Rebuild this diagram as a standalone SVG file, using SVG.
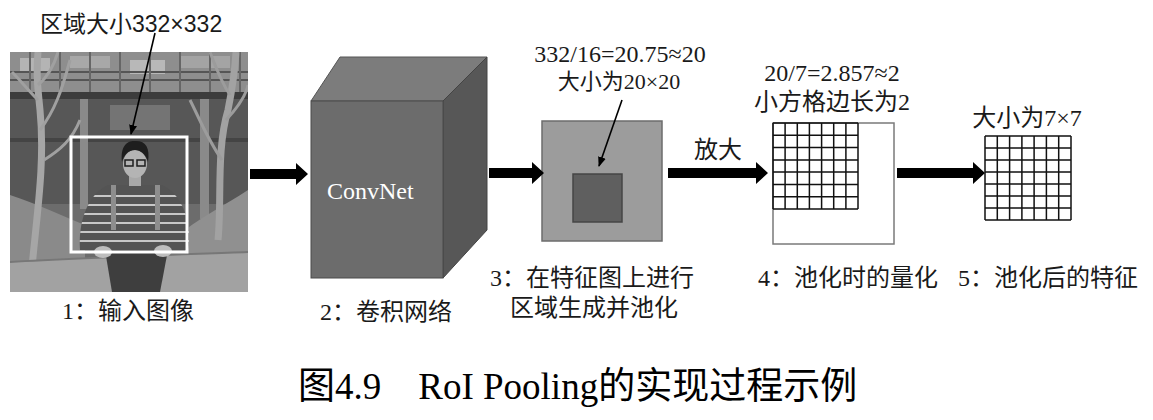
<svg xmlns="http://www.w3.org/2000/svg" width="1153" height="420" viewBox="0 0 1153 420">
<style>
.lbl{font-family:"Liberation Serif","Noto Sans CJK SC",serif;font-size:24px;fill:#1a1a1a}
.sans{font-family:"Liberation Sans","Noto Sans CJK SC",sans-serif;font-size:23px;fill:#1a1a1a}
.cap{font-family:"Liberation Serif","Noto Sans CJK SC",serif;font-size:37px;fill:#000}
.bigarrow{fill:#000}
.thin{stroke:#000;stroke-width:1.6;fill:none}
.grid{stroke:#111;stroke-width:1.5;fill:none}
</style>
<defs>
<marker id="ah" markerUnits="userSpaceOnUse" markerWidth="10" markerHeight="10" refX="9" refY="5" orient="auto">
<path d="M0,1 L10,5 L0,9 Z" fill="#000"/>
</marker>
<clipPath id="photoClip"><rect x="10" y="52" width="238" height="240"/></clipPath>
<clipPath id="bodyClip"><path d="M80,250 C78,225 86,195 108,185 L162,185 C184,195 192,225 188,250 Z"/></clipPath>
</defs>
<rect width="1153" height="420" fill="#fff"/>

<g id="photo" clip-path="url(#photoClip)">
<rect x="10" y="52" width="238" height="240" fill="#6c6c6c"/>
<rect x="10" y="52" width="238" height="42" fill="#8e8e8e"/>
<rect x="20" y="58" width="30" height="14" fill="#b4b4b4"/>
<rect x="70" y="56" width="40" height="12" fill="#a8a8a8"/>
<rect x="130" y="60" width="35" height="14" fill="#b8b8b8"/>
<rect x="180" y="56" width="50" height="12" fill="#a4a4a4"/>
<path d="M10,72 H248 M10,80 H248" stroke="#555" stroke-width="2"/>
<path d="M30,52 V92 M60,52 V92 M90,52 V92 M120,52 V92 M150,52 V92 M180,52 V92 M210,52 V92 M240,52 V92" stroke="#666" stroke-width="2"/>
<rect x="10" y="92" width="238" height="7" fill="#3c3c3c"/>
<rect x="10" y="99" width="238" height="105" fill="#575757"/>
<rect x="110" y="105" width="60" height="25" fill="#747474"/>
<rect x="10" y="138" width="238" height="4" fill="#444"/>
<rect x="80" y="99" width="8" height="110" fill="#8a8a8a"/>
<rect x="200" y="99" width="9" height="120" fill="#8a8a8a"/>
<path d="M10,195 C40,205 60,215 85,225 L85,292 L10,292 Z" fill="#8a8a8a"/>
<path d="M185,230 C205,215 225,205 248,190 L248,292 L185,292 Z" fill="#909090"/>
<path d="M30,292 C34,230 46,170 40,110 C38,90 36,75 38,52" stroke="#a6a6a6" stroke-width="7" fill="none"/>
<path d="M40,130 C55,110 62,90 70,60 M38,100 C28,90 20,80 12,72 M44,160 C60,150 72,140 80,120 M38,85 C50,75 55,62 58,52" stroke="#a0a0a0" stroke-width="3" fill="none"/>
<path d="M218,240 C222,200 216,150 228,110 C232,90 235,70 236,52" stroke="#a2a2a2" stroke-width="7" fill="none"/>
<path d="M226,120 C240,105 246,95 248,85 M222,160 C208,140 200,120 190,100 M230,95 C220,80 215,65 210,52" stroke="#9c9c9c" stroke-width="3" fill="none"/>
<path d="M10,262 C80,258 170,255 248,252 L248,292 L10,292 Z" fill="#a2a2a2"/>
<path d="M10,262 C80,258 170,255 248,252" stroke="#777" stroke-width="2" fill="none"/>
<path d="M105,250 L168,250 L160,292 L112,292 Z" fill="#3e3e3e"/>
<path d="M80,250 C78,225 86,195 108,185 L162,185 C184,195 192,225 188,250 Z" fill="#545454"/>
<g clip-path="url(#bodyClip)" stroke="#c8c8c8" stroke-width="2">
<path d="M70,196 H200 M70,205 H200 M70,214 H200 M70,223 H200 M70,232 H200 M70,241 H200"/>
</g>
<rect x="111" y="185" width="5" height="45" fill="#8e8e8e"/>
<rect x="155" y="185" width="5" height="45" fill="#8e8e8e"/>
<ellipse cx="103" cy="252" rx="9" ry="6" fill="#bdbdbd"/>
<ellipse cx="163" cy="251" rx="9" ry="6" fill="#bdbdbd"/>
<rect x="129" y="174" width="12" height="12" fill="#a8a8a8"/>
<ellipse cx="135" cy="164" rx="12" ry="14" fill="#b4b4b4"/>
<path d="M122,162 C120,145 128,140 136,141 C146,141 150,148 148,162 C146,154 140,150 135,150 C128,150 124,155 122,162 Z" fill="#1e1e1e"/>
<rect x="125" y="160" width="8" height="6" fill="none" stroke="#1e1e1e" stroke-width="1.5"/>
<rect x="137" y="160" width="8" height="6" fill="none" stroke="#1e1e1e" stroke-width="1.5"/>
</g>
<g id="roi-box">
<rect x="71" y="137" width="116" height="115" fill="none" stroke="#fff" stroke-width="3"/>
</g>

<g id="cube">
<polygon points="311,101 340,57 487,57 443,101" fill="#7c7c7c" stroke="#555" stroke-width="1"/>
<polygon points="443,101 487,57 487,230 443,278" fill="#575757" stroke="#444" stroke-width="1"/>
<rect x="311" y="101" width="132" height="177" fill="#6c6c6c" stroke="#4a4a4a" stroke-width="1"/>
<text x="327" y="199" style="font-family:'Liberation Serif',serif;font-size:24px;fill:#fff">ConvNet</text>
</g>

<g id="featuremap">
<rect x="542" y="121" width="120" height="120" fill="#9c9c9c" stroke="#6c6c6c" stroke-width="1.5"/>
<rect x="573" y="174" width="49" height="48" fill="#5f5f5f" stroke="#454545" stroke-width="1.5"/>
</g>

<g id="quantgrid">
<rect x="773" y="123" width="121" height="121" fill="#fff" stroke="#7a7a7a" stroke-width="1.5"/>
<path class="grid" d="M773,123 V209 M785.1,123 V209 M797.3,123 V209 M809.4,123 V209 M821.6,123 V209 M833.7,123 V209 M845.9,123 V209 M858,123 V209 M773,123 H858 M773,135.3 H858 M773,147.6 H858 M773,159.9 H858 M773,172.1 H858 M773,184.4 H858 M773,196.7 H858 M773,209 H858"/>
</g>

<g id="outgrid">
<path class="grid" d="M985,136 V220 M997.3,136 V220 M1009.6,136 V220 M1021.9,136 V220 M1034.1,136 V220 M1046.4,136 V220 M1058.7,136 V220 M1071,136 V220 M985,136 H1071 M985,148 H1071 M985,160 H1071 M985,172 H1071 M985,184 H1071 M985,196 H1071 M985,208 H1071 M985,220 H1071"/>
</g>

<g id="connectors">
<polygon class="bigarrow" points="250,169 296,169 296,163 308,174 296,185 296,179 250,179"/>
<polygon class="bigarrow" points="489,168 532,168 532,162 544,173 532,184 532,178 489,178"/>
<polygon class="bigarrow" points="668,168 756,168 756,162 768,173 756,184 756,178 668,178"/>
<polygon class="bigarrow" points="897,168 973,168 973,162 985,173 973,184 973,178 897,178"/>
<line class="thin" x1="155" y1="33" x2="131" y2="134" marker-end="url(#ah)"/>
<line class="thin" x1="622" y1="100" x2="599" y2="166" marker-end="url(#ah)"/>
</g>

<g id="labels">
<text class="sans" x="40" y="32">区域大小332×332</text>
<text class="lbl" x="62" y="319">1：输入图像</text>
<text class="lbl" x="320" y="320">2：卷积网络</text>
<text class="lbl" x="620" y="62" text-anchor="middle">332/16=20.75≈20</text>
<text class="lbl" x="619" y="89" text-anchor="middle" style="font-size:22px">大小为20×20</text>
<text class="lbl" x="490" y="286">3：在特征图上进行</text>
<text class="lbl" x="510" y="316">区域生成并池化</text>
<text class="lbl" x="718" y="158" text-anchor="middle">放大</text>
<text class="lbl" x="832" y="81" text-anchor="middle">20/7=2.857≈2</text>
<text class="lbl" x="832" y="110" text-anchor="middle">小方格边长为2</text>
<text class="lbl" x="758" y="286">4：池化时的量化</text>
<text class="lbl" x="1027" y="126" text-anchor="middle">大小为7×7</text>
<text class="lbl" x="958" y="286">5：池化后的特征</text>
<text class="cap" x="298" y="399">图4.9　RoI Pooling的实现过程示例</text>
</g>
</svg>
